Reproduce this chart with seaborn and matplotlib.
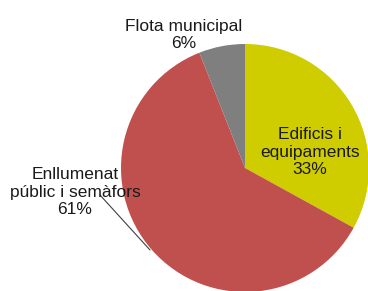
import matplotlib
matplotlib.use('Agg')
import matplotlib.pyplot as plt
import seaborn as sns

sns.set_theme(style='white')
plt.rcParams['font.family'] = ['Liberation Sans', 'DejaVu Sans']

labels = ['Edificis i\nequipaments', 'Enllumenat\npúblic i semàfors', 'Flota municipal']
shares = [33, 61, 6]
colors = ['#CFCC00', '#C0504D', '#7F7F7F']

fig = plt.figure(figsize=(3.68, 2.91), dpi=100)
ax = fig.add_axes([0, 0, 1, 1])
ax.pie(shares, colors=colors, startangle=90, counterclock=False,
       center=(245, 123), radius=124, frame=True,
       wedgeprops={'linewidth': 0})
ax.set_xlim(0, 368)
ax.set_ylim(0, 291)
ax.set_aspect('equal')
ax.axis('off')

fs = 12.5
ax.text(310, 139, f'{labels[0]}\n{shares[0]}%', ha='center', va='center',
        fontsize=fs, color='#1a1a1a', linespacing=1.2)
ax.text(184, 256, f'{labels[2]}\n{shares[2]}%', ha='center', va='center',
        fontsize=fs, color='#1a1a1a', linespacing=1.2)
ax.text(75, 99, f'{labels[1]}\n{shares[1]}%', ha='center', va='center',
        fontsize=fs, color='#1a1a1a', linespacing=1.2)
ax.plot([100, 150], [96, 41], color='#404040', linewidth=0.8)

fig.savefig('out.png', dpi=100)
